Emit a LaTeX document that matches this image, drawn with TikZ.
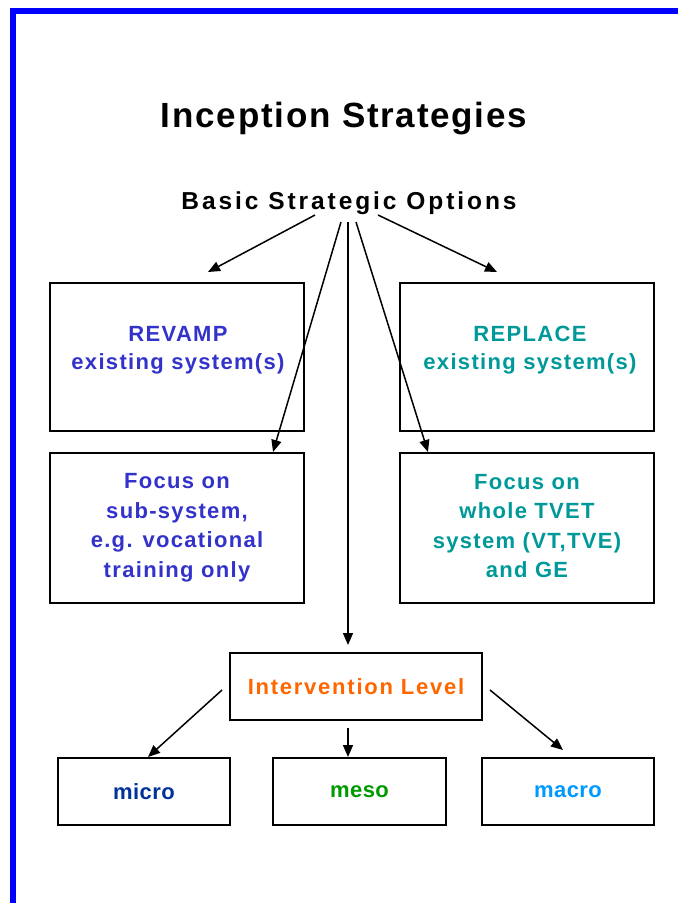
\documentclass[tikz,border=0pt]{standalone}
\usepackage{fontspec}
\setmainfont{Liberation Sans}
\newfontfamily\ftitle{Liberation Sans}[LetterSpace=5]
\newfontfamily\fsubt{Liberation Sans}[LetterSpace=12]
\newfontfamily\fbx{Liberation Sans}[LetterSpace=6]
\newfontfamily\fivl{Liberation Sans}[LetterSpace=8]
\newfontfamily\fsmall{Liberation Sans}[LetterSpace=2]
\usetikzlibrary{arrows.meta,calc}
\definecolor{revblue}{HTML}{3333CC}
\definecolor{repteal}{HTML}{009999}
\definecolor{ivorange}{HTML}{FF6600}
\definecolor{microblue}{HTML}{003399}
\definecolor{mesogreen}{HTML}{009900}
\definecolor{macroblue}{HTML}{0099FF}
\definecolor{frameblue}{HTML}{0000FF}
\begin{document}
\begin{tikzpicture}[x=1pt,y=-1pt,
  box/.style={draw=black, line width=2pt, inner sep=0pt, align=center},
  bigbox/.style={box, minimum width=254pt, minimum height=148pt},
  focusbox/.style={box, minimum width=254pt, minimum height=150pt,
    font={\fontsize{22}{29.5}\fbx\bfseries}},
  levelbox/.style={box, minimum width=172pt, minimum height=67pt,
    font={\fontsize{22}{26}\fsmall\bfseries}},
  btxt/.style={align=center, inner sep=0pt, font={\fontsize{22}{28}\fbx\bfseries}},
  arr/.style={-{Triangle[length=12pt,width=10pt]}, line width=1.5pt}]
\useasboundingbox (0,0) rectangle (678,903);
\fill[white] (0,0) rectangle (678,903);
% frame
\draw[frameblue, line width=6pt] (12.5,903) -- (12.5,11) -- (678,11);
% titles
\node[inner sep=0pt, anchor=base, font={\fontsize{35}{40}\ftitle\bfseries}] (title) at (344,127) {Inception Strategies};
\node[inner sep=0pt, anchor=base, font={\fontsize{24.5}{28}\fsubt\bfseries}] (bso) at (349,209) {Basic Strategic Options};
% boxes
\node[bigbox] (rv) at (177,357) {};
\node[btxt, text=revblue] (rvt) at (178,350) {REVAMP\\existing system(s)};
\node[bigbox] (rp) at (527,357) {};
\node[btxt, text=repteal] (rpt) at (530,350) {REPLACE\\existing system(s)};
\node[focusbox, text=revblue] (fl) at (177,528) {Focus on\\sub-system,\\e.g. vocational\\training only};
\node[focusbox, text=repteal] (fr) at (527,528) {Focus on\\whole TVET\\system (VT,TVE)\\and GE\vphantom{y}};
\node[box, minimum width=252pt, minimum height=67pt, text=ivorange,
  font={\fontsize{22}{26}\fivl\bfseries}] (il) at (356,686.5) {Intervention Level};
\node[levelbox, text=microblue] (mi) at (144,791.5) {micro};
\node[levelbox, minimum width=173pt, text=mesogreen] (me) at (359.5,791.5) {meso};
\node[levelbox, text=macroblue] (ma) at (568,791.5) {macro};
% connector ends
\coordinate (t1) at (315,215);
\coordinate (e1) at (208,272);
\coordinate (t2) at (378,215);
\coordinate (e2) at (497,272);
\coordinate (t3) at (341,222);
\coordinate (t4) at (356,222);
\coordinate (t5) at (348,222);
\coordinate (i1) at (222,690);
\coordinate (i2) at (348,728);
\coordinate (i3) at (490,690);
\coordinate (e3) at (563,750);
% connectors
\draw[arr] (t1) -- (e1);
\draw[arr] (t2) -- (e2);
\draw[arr] (t3) -- ($(fl.north west)+(224,0)$);
\draw[arr] (t4) -- ($(fr.north west)+(29,0)$);
\draw[arr, shorten >=7pt] (t5) -- (t5 |- il.north);
\draw[arr] (i1) -- ($(mi.north)+(4,0)$);
\draw[arr] (i2) -- (i2 |- me.north);
\draw[arr] (i3) -- (e3);
\end{tikzpicture}
\end{document}
